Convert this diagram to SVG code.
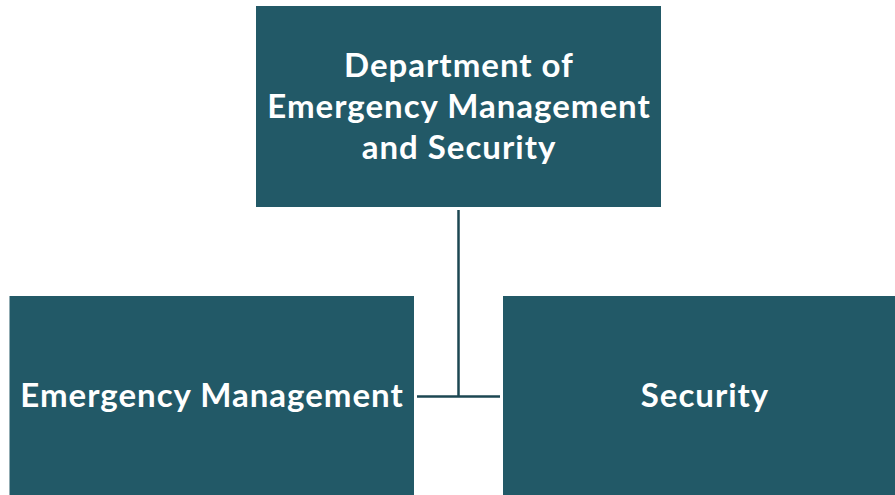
<svg xmlns="http://www.w3.org/2000/svg" width="895" height="495" viewBox="0 0 895 495">
<style>
.box{fill:#225967;}
.t{font-family:Lato,"Open Sans",sans-serif;font-weight:bold;font-size:33px;letter-spacing:1px;fill:#ffffff;text-anchor:middle;}
.c{stroke:#1c4752;stroke-width:2.5;fill:none;}
</style>
<rect width="895" height="495" fill="#ffffff"/>
<g id="connectors">
<line class="c" x1="458.5" y1="210" x2="458.5" y2="397"/>
<line class="c" x1="417" y1="396.5" x2="500" y2="396.5"/>
</g>
<g id="dept">
<rect class="box" x="256" y="6" width="405" height="201"/>
<text class="t" x="459" y="77">Department of</text>
<text class="t" x="459" y="118">Emergency Management</text>
<text class="t" x="459" y="159">and Security</text>
</g>
<g id="em">
<rect class="box" x="9.5" y="296" width="404.5" height="199"/>
<text class="t" x="212" y="407">Emergency Management</text>
</g>
<g id="sec">
<rect class="box" x="503" y="296" width="392" height="199"/>
<text class="t" x="705" y="407">Security</text>
</g>
</svg>
